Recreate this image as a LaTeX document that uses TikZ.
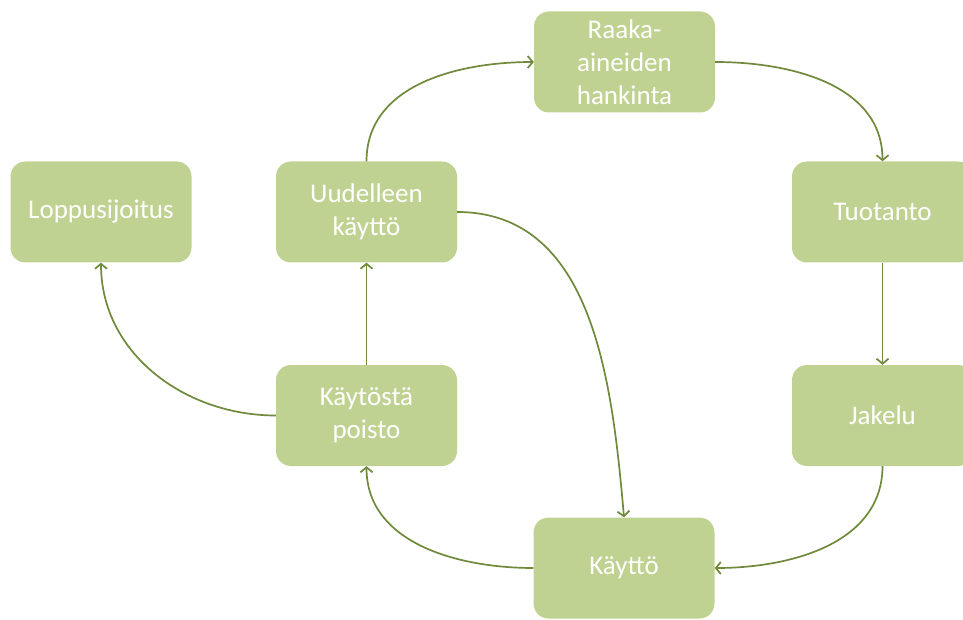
\documentclass[tikz,border=0pt]{standalone}
\usepackage{fontspec}
\setmainfont{Carlito}
\usetikzlibrary{arrows.meta}
\definecolor{boxgreen}{HTML}{C0D291}
\definecolor{linegreen}{HTML}{6F8A3A}
\begin{document}
\begin{tikzpicture}[x=1pt,y=1pt,
  stage/.style={fill=boxgreen, rounded corners=15pt, minimum width=181pt, minimum height=101pt,
    text=white, align=center, font=\fontsize{27}{33}\selectfont, inner sep=0pt, text width=175pt},
  conn/.style={draw=linegreen, line width=1.7pt, -{Straight Barb[length=5pt,width=12pt]}}]
\useasboundingbox (0,0) rectangle (963,619);
\clip (0,0) rectangle (963,619);
\node[stage] (raaka) at (624.5,557) {Raaka-\\aineiden\\hankinta};
\node[stage] (lop) at (101,407) {Loppusijoitus};
\node[stage] (uud) at (366.5,407) {Uudelleen\\käyttö};
\node[stage] (tuo) at (882.5,407) {Tuotanto};
\node[stage] (kp) at (366.5,203.5) {Käytöstä\\poisto};
\node[stage] (jak) at (882.5,203.5) {Jakelu};
\node[stage] (kay) at (624,51) {Käyttö};
\draw[conn] (uud.north) to[out=90,in=180] (raaka.west);
\draw[conn] (raaka.east) to[out=0,in=90] (tuo.north);
\draw[conn] (tuo) -- (jak);
\draw[conn] (jak.south) to[out=-90,in=0] (kay.east);
\draw[conn] (kay.west) to[out=180,in=-90] (kp.south);
\draw[conn] (kp) -- (uud);
\draw[conn] (kp.west) to[out=180,in=-90] (lop.south);
\draw[conn] (uud.east) to[out=0,in=95] (kay.north);
\end{tikzpicture}
\end{document}
